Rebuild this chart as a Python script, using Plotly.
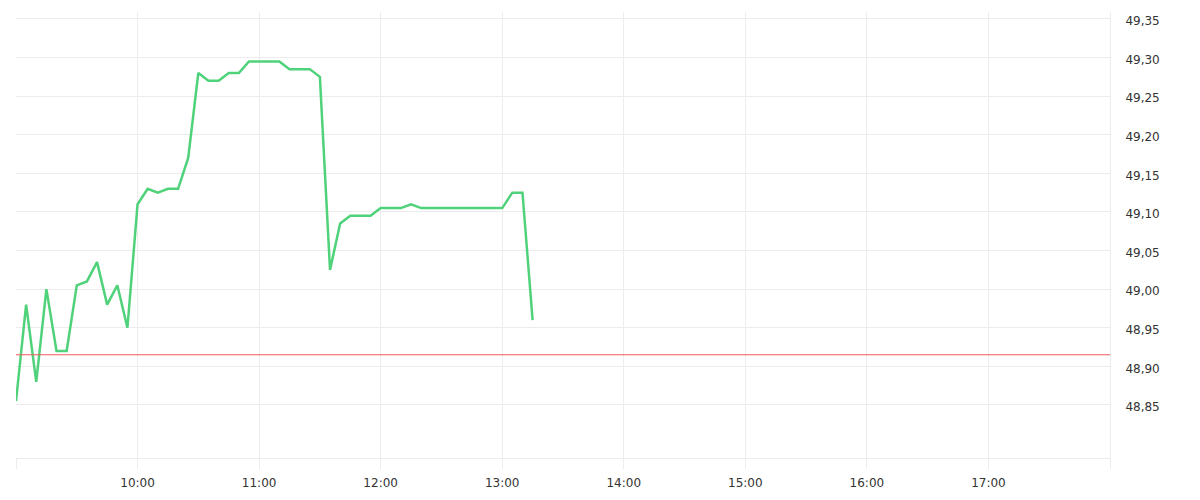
import plotly.graph_objects as go
import pandas as pd

# intraday prices, 5-minute steps from 09:00
start_time = "2024-01-01 09:00"
prices = [48.855, 48.98, 48.88, 49.00, 48.92, 48.92, 49.005, 49.01, 49.035, 48.98,
          49.005, 48.95, 49.11, 49.13, 49.125, 49.13, 49.13, 49.17, 49.28, 49.27,
          49.27, 49.28, 49.28, 49.295, 49.295, 49.295, 49.295, 49.285, 49.285, 49.285,
          49.275, 49.025, 49.085, 49.095, 49.095, 49.095, 49.105, 49.105, 49.105, 49.11,
          49.105, 49.105, 49.105, 49.105, 49.105, 49.105, 49.105, 49.105, 49.105, 49.125,
          49.125, 48.96]
prev_close = 48.915

hours = ["09:00", "10:00", "11:00", "12:00", "13:00", "14:00", "15:00", "16:00", "17:00", "18:00"]
hour_labels = ["", "10:00", "11:00", "12:00", "13:00", "14:00", "15:00", "16:00", "17:00", ""]
y_ticks = [48.85, 48.90, 48.95, 49.00, 49.05, 49.10, 49.15, 49.20, 49.25, 49.30, 49.35]

times = pd.date_range(start_time, periods=len(prices), freq="5min")
hour_vals = ["2024-01-01 " + h for h in hours]

grid = "#ececec"

fig = go.Figure()
fig.add_trace(go.Scatter(x=times, y=prices,
                         mode="lines",
                         line=dict(color="#4fd27a", width=2.5),
                         hoverinfo="x+y"))

fig.add_shape(type="line", xref="paper", x0=0, x1=1, yref="y", y0=prev_close, y1=prev_close,
              line=dict(color="#ee5a5a", width=1))

# page body has an 8px margin, so the figure is a bit smaller than the window
fig.update_layout(
    width=1192, height=492,
    margin=dict(l=8, r=90, t=4, b=42),
    plot_bgcolor="white", paper_bgcolor="white",
    separators=",.",
    showlegend=False,
    font=dict(family="DejaVu Sans", size=12, color="#333333"),
    xaxis=dict(range=[hour_vals[0], hour_vals[-1]],
               tickmode="array", tickvals=hour_vals, ticktext=hour_labels,
               showgrid=True, gridcolor=grid, gridwidth=1,
               showline=True, linecolor=grid, linewidth=1,
               ticks="outside", ticklen=10, tickcolor=grid,
               ticklabelstandoff=4,
               zeroline=False),
    yaxis=dict(side="right", range=[48.7813, 49.359],
               tickmode="array", tickvals=y_ticks, tickformat=".2f",
               showgrid=True, gridcolor=grid, gridwidth=1,
               showline=True, linecolor=grid, linewidth=1,
               ticks="", ticklabelstandoff=12, ticklabelshift=2,
               zeroline=False),
)

fig.write_html("out.html")
